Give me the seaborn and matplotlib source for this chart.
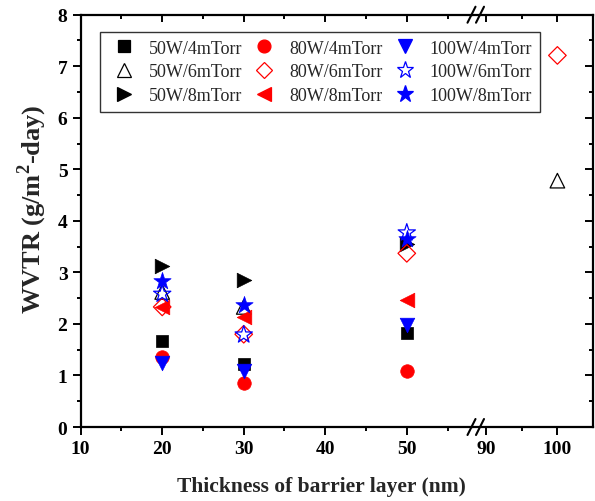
import matplotlib
matplotlib.use("Agg")
import matplotlib.pyplot as plt
from matplotlib.lines import Line2D
from matplotlib.ticker import FixedLocator
import seaborn as sns
import pandas as pd

# ---- data ----
x_50W_4 = [20, 30, 50]
y_50W_4 = [1.66, 1.22, 1.82]
x_50W_6 = [20, 30, 100]
y_50W_6 = [2.62, 2.33, 4.78]
x_50W_8 = [20, 30, 50]
y_50W_8 = [3.13, 2.86, 3.55]
x_80W_4 = [20, 30, 50]
y_80W_4 = [1.36, 0.86, 1.09]
x_80W_6 = [20, 30, 50, 100]
y_80W_6 = [2.33, 1.80, 3.37, 7.21]
x_80W_8 = [20, 30, 50]
y_80W_8 = [2.33, 2.13, 2.46]
x_100W_4 = [20, 30, 50]
y_100W_4 = [1.24, 1.09, 1.98]
x_100W_6 = [20, 30, 50]
y_100W_6 = [2.58, 1.79, 3.77]
x_100W_8 = [20, 30, 50]
y_100W_8 = [2.84, 2.36, 3.64]

series = [
    ("50W/4mTorr", x_50W_4, y_50W_4, "s", "black", True, 80),
    ("50W/6mTorr", x_50W_6, y_50W_6, "^", "black", False, 110),
    ("50W/8mTorr", x_50W_8, y_50W_8, ">", "black", True, 110),
    ("80W/4mTorr", x_80W_4, y_80W_4, "o", "red", True, 95),
    ("80W/6mTorr", x_80W_6, y_80W_6, "D", "red", False, 80),
    ("80W/8mTorr", x_80W_8, y_80W_8, "<", "red", True, 110),
    ("100W/4mTorr", x_100W_4, y_100W_4, "v", "blue", True, 110),
    ("100W/6mTorr", x_100W_6, y_100W_6, "*", "blue", False, 170),
    ("100W/8mTorr", x_100W_8, y_100W_8, "*", "blue", True, 170),
]

major_x_left = [10, 20, 30, 40, 50]
minor_x_left = [15, 25, 35, 45, 55]
major_x_right = [90, 100]
minor_x_right = [95]
major_y = [0, 1, 2, 3, 4, 5, 6, 7, 8]
minor_y = [0.5, 1.5, 2.5, 3.5, 4.5, 5.5, 6.5, 7.5]

rows = []
for name, xs, ys, *_ in series:
    for xv, yv in zip(xs, ys):
        rows.append({"series": name, "thickness": xv, "wvtr": yv})
df = pd.DataFrame(rows)

sns.set_style("ticks")
plt.rcParams["font.family"] = ["Liberation Serif", "DejaVu Serif"]
plt.rcParams["mathtext.fontset"] = "custom"
plt.rcParams["mathtext.rm"] = "Liberation Serif"
plt.rcParams["mathtext.bf"] = "Liberation Serif:bold"
plt.rcParams["xtick.color"] = "black"
plt.rcParams["ytick.color"] = "black"

fig = plt.figure(figsize=(5.95, 5.02), dpi=100)
L, R, B, T = 0.1356, 0.9966, 0.1474, 0.9687
split = 472.0 / 595
ax1 = fig.add_axes([L, B, split - L, T - B])
ax2 = fig.add_axes([split, B, R - split, T - B], sharey=ax1)
ax2.patch.set_visible(False)

for ax in (ax1, ax2):
    for name, xs, ys, mk, col, filled, size in series:
        sub = df[df["series"] == name]
        sns.scatterplot(data=sub, x="thickness", y="wvtr", marker=mk, s=size,
                        color=col, edgecolor=col, linewidth=0.9 if not filled else 0.5,
                        ax=ax, legend=False, zorder=3)
        coll = ax.collections[-1]
        if not filled:
            coll.set_facecolor("none")
            coll.set_edgecolor(col)

ax1.set_xlim(10, 58)
ax2.set_xlim(88, 105)
ax1.set_ylim(0, 8)

lw = 1.6
tw = 1.4
MAJ, MIN = 5.5, 3.0  # tick lengths, points
for ax in (ax1, ax2):
    for sp in ax.spines.values():
        sp.set_linewidth(lw)
        sp.set_color("black")
ax1.spines["right"].set_visible(False)
ax2.spines["left"].set_visible(False)

for ax, mj, mn in ((ax1, major_x_left, minor_x_left), (ax2, major_x_right, minor_x_right)):
    ax.xaxis.set_major_locator(FixedLocator(mj))
    ax.xaxis.set_minor_locator(FixedLocator(mn))
    ax.tick_params(axis="x", which="major", direction="out", length=MAJ, width=tw,
                   top=False, bottom=True, labelsize=14, pad=4)
    ax.tick_params(axis="x", which="minor", direction="out", length=MIN, width=tw,
                   top=False, bottom=True)
    for lab in ax.get_xticklabels():
        lab.set_fontweight("bold")
    # inward ticks along the top edge
    h_pt = ax.get_position().height * fig.get_figheight() * 72
    for xs_t, ln in ((mj, MAJ), (mn, MIN)):
        for xt in xs_t:
            ax.plot([xt, xt], [1 - ln / h_pt, 1.0], transform=ax.get_xaxis_transform(),
                    color="black", linewidth=tw, clip_on=False, zorder=4,
                    solid_capstyle="butt")

ax1.yaxis.set_major_locator(FixedLocator(major_y))
ax1.yaxis.set_minor_locator(FixedLocator(minor_y))
ax1.tick_params(axis="y", which="major", direction="out", length=MAJ, width=tw,
                left=True, right=False, labelsize=14, pad=4)
ax1.tick_params(axis="y", which="minor", direction="out", length=MIN, width=tw,
                left=True, right=False)
for lab in ax1.get_yticklabels():
    lab.set_fontweight("bold")
ax2.tick_params(axis="y", which="both", left=False, right=False, labelleft=False)
# inward ticks along the right edge
w_pt = ax2.get_position().width * fig.get_figwidth() * 72
ax2.hlines(major_y, 1 - MAJ / w_pt, 1, transform=ax2.get_yaxis_transform(),
           colors="black", linewidth=tw, clip_on=False, zorder=4)
ax2.hlines(minor_y, 1 - MIN / w_pt, 1, transform=ax2.get_yaxis_transform(),
           colors="black", linewidth=tw, clip_on=False, zorder=4)

ax1.set_xlabel("")
ax2.set_xlabel("")
ax1.set_ylabel(r"WVTR (g/m$^{\mathbf{2}}$-day)", fontsize=19, fontweight="bold")
ax1.yaxis.set_label_coords(-0.080, 0.53)
ax2.set_ylabel("")
fig.text(0.541, 0.03, "Thickness of barrier layer (nm)", ha="center",
         va="center", fontsize=15.5, fontweight="bold")

# axis-break marks
def brk(yfig):
    for xc in (471.5, 480.0):
        x0 = xc / 595
        fig.add_artist(Line2D([x0 - 4 / 595, x0 + 4 / 595],
                              [yfig - 8 / 502, yfig + 8 / 502],
                              color="black", lw=1.5, transform=fig.transFigure,
                              clip_on=False))
brk(B)
brk(T)

# legend
handles = []
for name, xs, ys, mk, col, filled, size in series:
    handles.append(Line2D([], [], linestyle="none", marker=mk,
                          markersize=(size ** 0.5) * 0.95,
                          markerfacecolor=col if filled else "none",
                          markeredgecolor=col, markeredgewidth=0.9, label=name))
leg = fig.legend(handles=handles, ncol=3, loc="upper left",
                 bbox_to_anchor=(100 / 595, 1 - 33 / 502), bbox_transform=fig.transFigure,
                 frameon=True, fancybox=False, edgecolor="black", fontsize=13,
                 handlelength=1.8, handletextpad=0.5, columnspacing=0.3,
                 labelspacing=0.38, borderpad=0.42, borderaxespad=0)
leg.get_frame().set_linewidth(1.0)
leg.set_zorder(5)

fig.savefig("out.png", dpi=100)
